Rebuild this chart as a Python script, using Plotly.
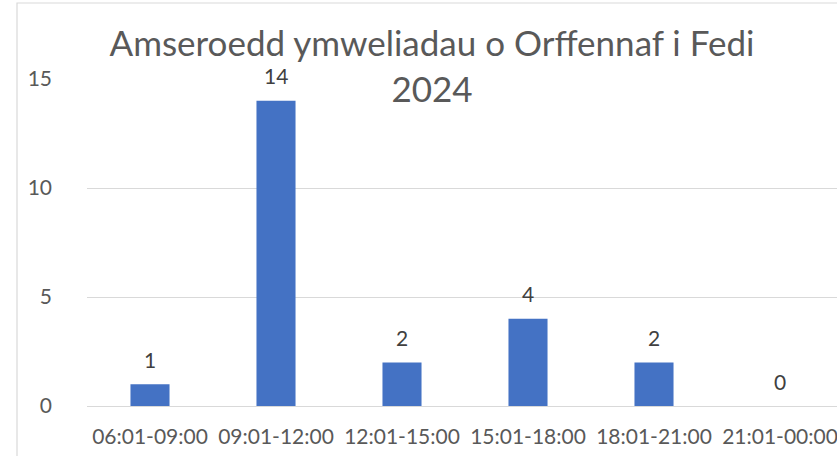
import plotly.graph_objects as go

categories = ["06:01-09:00", "09:01-12:00", "12:01-15:00", "15:01-18:00", "18:01-21:00", "21:01-00:00"]
values = [1, 14, 2, 4, 2, 0]
y_ticks = [0, 5, 10, 15]
title_text = "Amseroedd ymweliadau o Orffennaf i Fedi<br>2024"

W, H = 837, 456
L, R, T, B = 87, 0, 79, 50
pw, ph = W - L - R, H - T - B

txt_color = "#595959"
font_family = "Lato, Open Sans, sans-serif"

fig = go.Figure()
fig.add_trace(go.Bar(
    x=list(range(len(categories))), y=values,
    marker=dict(color="#4472C4", line=dict(width=0)),
    width=0.31,
    hoverinfo="skip",
))

annotations = []
for i, v in enumerate(values):
    annotations.append(dict(
        x=i, y=v, xref="x", yref="y", text=str(v), showarrow=False,
        yanchor="middle", yshift=25,
        font=dict(size=21, color="#404040", family=font_family),
    ))

# chart-area border (left and top visible)
bx0 = (17 - L) / pw
by1 = (H - B - 3) / ph
shapes = [dict(type="rect", xref="paper", yref="paper",
               x0=bx0, x1=1.2, y0=-0.5, y1=by1,
               line=dict(color="#d9d9d9", width=1.2), fillcolor="rgba(0,0,0,0)",
               layer="below")]

fig.update_layout(
    width=W, height=H,
    margin=dict(l=L, r=R, t=T, b=B, pad=0, autoexpand=False),
    paper_bgcolor="white", plot_bgcolor="white",
    showlegend=False,
    bargap=0.69,
    font=dict(family=font_family, color=txt_color, size=21),
    title=dict(
        text=title_text,
        x=432 / W, xanchor="center", xref="container",
        y=1 - 56 / H, yanchor="middle", yref="container",
        font=dict(size=35, color=txt_color, family=font_family),
    ),
    xaxis=dict(
        tickmode="array", tickvals=list(range(len(categories))), ticktext=categories,
        range=[-0.5, len(categories) - 0.5 - 6 / 126],
        showgrid=False, zeroline=False, showline=False, automargin=False,
        ticks="", tickfont=dict(size=21, color=txt_color),
        ticklabelstandoff=16, ticklabeloverflow="allow",
    ),
    yaxis=dict(
        range=[0, 15], tickmode="array", tickvals=y_ticks,
        showgrid=True, gridcolor="#d9d9d9", gridwidth=1.2,
        zeroline=True, zerolinecolor="#d9d9d9", zerolinewidth=1.2,
        showline=False, automargin=False,
        ticks="", tickfont=dict(size=21, color=txt_color),
        ticklabelstandoff=34,
    ),
    annotations=annotations,
    shapes=shapes,
)

fig.write_html(
    "out.html",
    config={"displayModeBar": False},
    post_script="document.body.style.margin='0';document.body.style.overflow='hidden';",
)
